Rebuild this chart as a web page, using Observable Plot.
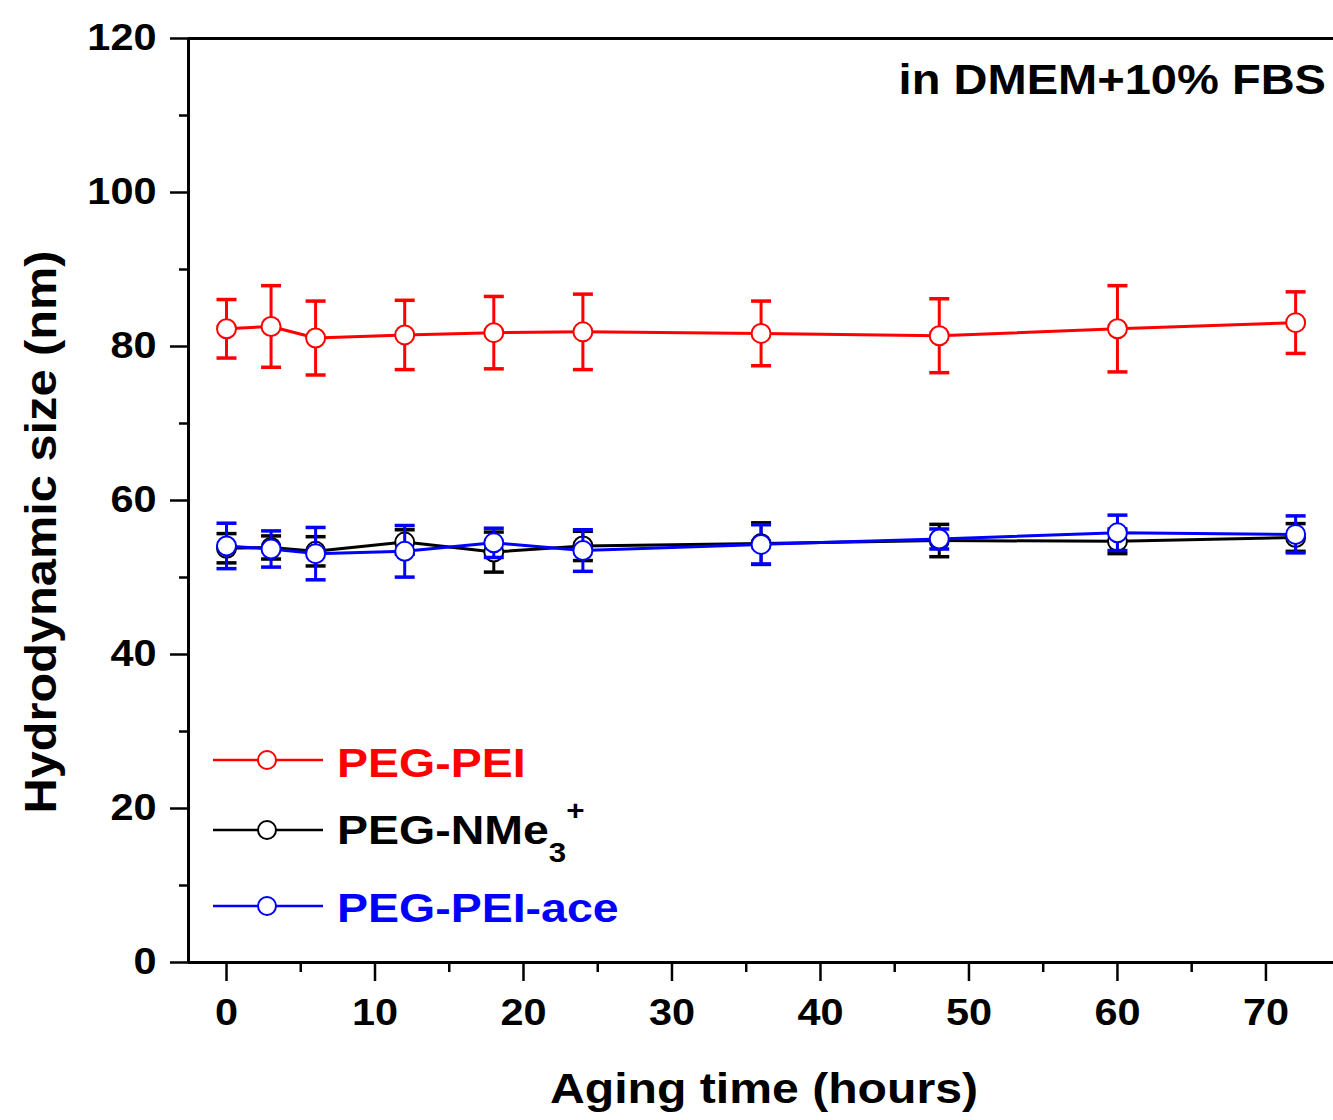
<!DOCTYPE html>
<html><head><meta charset="utf-8">
<script src="https://cdn.jsdelivr.net/npm/d3@7"></script>
<script src="https://cdn.jsdelivr.net/npm/@observablehq/plot@0.6"></script>
<style>
body{margin:0;background:#fff;}
#chart{position:relative;width:1333px;height:1120px;overflow:hidden;}
</style></head><body><div id="chart"></div>
<script>
// ---- data ----
const hours = [0, 3, 6, 12, 18, 24, 36, 48, 60, 72];
const peiMean  = [82.3, 82.6, 81.1, 81.5, 81.8, 81.9, 81.7, 81.4, 82.3, 83.1];
const peiErr   = [3.8, 5.3, 4.8, 4.5, 4.7, 4.9, 4.2, 4.8, 5.6, 4.0];
const nme3Mean = [53.8, 53.9, 53.4, 54.6, 53.3, 54.1, 54.4, 54.8, 54.7, 55.2];
const nme3Err  = [1.9, 1.5, 1.9, 1.6, 2.6, 1.9, 2.7, 2.1, 1.6, 1.8];
const aceMean  = [54.1, 53.7, 53.1, 53.4, 54.5, 53.5, 54.3, 55.0, 55.8, 55.6];
const aceErr   = [2.95, 2.35, 3.4, 3.35, 1.9, 2.7, 2.55, 1.3, 2.3, 2.4];
const seriesNames  = ["PEG-PEI", "PEG-NMe3+", "PEG-PEI-ace"];
const seriesColors = ["#ff0000", "#000000", "#0000ff"];
const xTicks = [0, 10, 20, 30, 40, 50, 60, 70];
const xMinor = [5, 15, 25, 35, 45, 55, 65];
const yTicks = [0, 20, 40, 60, 80, 100, 120];
const yMinor = [10, 30, 50, 70, 90, 110];
const xDomain = [-2.56, 74.55];
const yDomain = [0, 120];
const xTitle = "Aging time (hours)";
const yTitle = "Hydrodynamic size (nm)";
const note = "in DMEM+10% FBS";

const means = [peiMean, nme3Mean, aceMean];
const errs = [peiErr, nme3Err, aceErr];
const series = seriesNames.map((name, k) => ({
  name, color: seriesColors[k],
  rows: hours.map((h, i) => ({x: h, y: means[k][i], lo: means[k][i] - errs[k][i], hi: means[k][i] + errs[k][i]}))
}));

const cap = {draw(ctx) { ctx.moveTo(-10, 0); ctx.lineTo(10, 0); }};

const dataMarks = series.flatMap(s => [
  Plot.line(s.rows, {x: "x", y: "y", stroke: s.color, strokeWidth: 3}),
  Plot.ruleX(s.rows, {x: "x", y1: "lo", y2: "hi", stroke: s.color, strokeWidth: 3}),
  Plot.dot(s.rows, {x: "x", y: "lo", symbol: cap, stroke: s.color, strokeWidth: 3.5, fill: "none"}),
  Plot.dot(s.rows, {x: "x", y: "hi", symbol: cap, stroke: s.color, strokeWidth: 3.5, fill: "none"}),
  Plot.dot(s.rows, {x: "x", y: "y", r: 9.5, stroke: s.color, strokeWidth: 2, fill: "white"})
]);

const svg = Plot.plot({
  width: 1333, height: 1120,
  marginLeft: 188, marginRight: 0, marginTop: 38, marginBottom: 158,
  x: {domain: xDomain},
  y: {domain: yDomain},
  style: {fontFamily: "'Liberation Sans', Arial, sans-serif", fontWeight: "bold", fontSize: "37px", color: "#000", background: "#fff", overflow: "visible"},
  marks: [
    Plot.axisX(xTicks, {tickSize: 19, tickPadding: 17, strokeWidth: 2.5, label: null}),
    Plot.axisX(xMinor, {tickSize: 10, tickFormat: () => "", strokeWidth: 2.5, label: null}),
    Plot.axisY(yTicks, {tickSize: 18, tickPadding: 14, strokeWidth: 2.5, label: null}),
    Plot.axisY(yMinor, {tickSize: 9, tickFormat: () => "", strokeWidth: 2.5, label: null}),
    ...dataMarks,
    Plot.ruleY([yDomain[0]], {strokeWidth: 3}),
    Plot.ruleY([yDomain[1]], {strokeWidth: 3}),
    Plot.ruleX([xDomain[0]], {strokeWidth: 3})
  ]
});

document.getElementById("chart").appendChild(svg);

const S = d3.select(svg);
const F = "'Liberation Sans', Arial, sans-serif";
// axis titles and annotation
S.append("text").attr("class", "stretch").attr("x", 764).attr("y", 1103)
  .attr("text-anchor", "middle").attr("font-size", 43).attr("font-weight", "bold").attr("font-family", F).attr("fill", "#000").text(xTitle);
S.append("text").attr("class", "stretch").attr("transform", "translate(56,532) rotate(-90)")
  .attr("text-anchor", "middle").attr("font-size", 43.5).attr("font-weight", "bold").attr("font-family", F).attr("fill", "#000").text(yTitle);
S.append("text").attr("class", "stretch").attr("x", 1326).attr("y", 94)
  .attr("text-anchor", "end").attr("font-size", 42).attr("font-weight", "bold").attr("font-family", F).attr("fill", "#000").text(note);

// legend
const legY = [760, 830, 906];
const legBase = [777, 844, 922];
series.forEach((s, k) => {
  const g = S.append("g");
  g.append("line").attr("x1", 213).attr("x2", 323).attr("y1", legY[k]).attr("y2", legY[k]).attr("stroke", s.color).attr("stroke-width", 2.4);
  g.append("circle").attr("cx", 267).attr("cy", legY[k]).attr("r", 9).attr("fill", "white").attr("stroke", s.color).attr("stroke-width", 2);
  const t = g.append("text").attr("class", "stretch").attr("x", 337).attr("y", legBase[k]).attr("text-anchor", "start")
    .attr("font-size", 41.5).attr("font-weight", "bold").attr("font-family", F).attr("fill", s.color);
  if (s.name === "PEG-NMe3+") {
    t.append("tspan").text("PEG-NMe");
    t.append("tspan").attr("font-size", 28).attr("dy", 18).text("3");
    t.append("tspan").attr("font-size", 28).attr("dy", -42).text("+");
  } else {
    t.text(s.name);
  }
});

// horizontal stretch of text to match reference glyph proportions
const STRETCH = 1.12;
svg.querySelectorAll('g[aria-label="x-axis tick label"] text, g[aria-label="y-axis tick label"] text, text.stretch').forEach(t => {
  const L = t.getComputedTextLength();
  if (L > 0) { t.setAttribute("textLength", L * STRETCH); t.setAttribute("lengthAdjust", "spacingAndGlyphs"); }
});
</script>
</body></html>
